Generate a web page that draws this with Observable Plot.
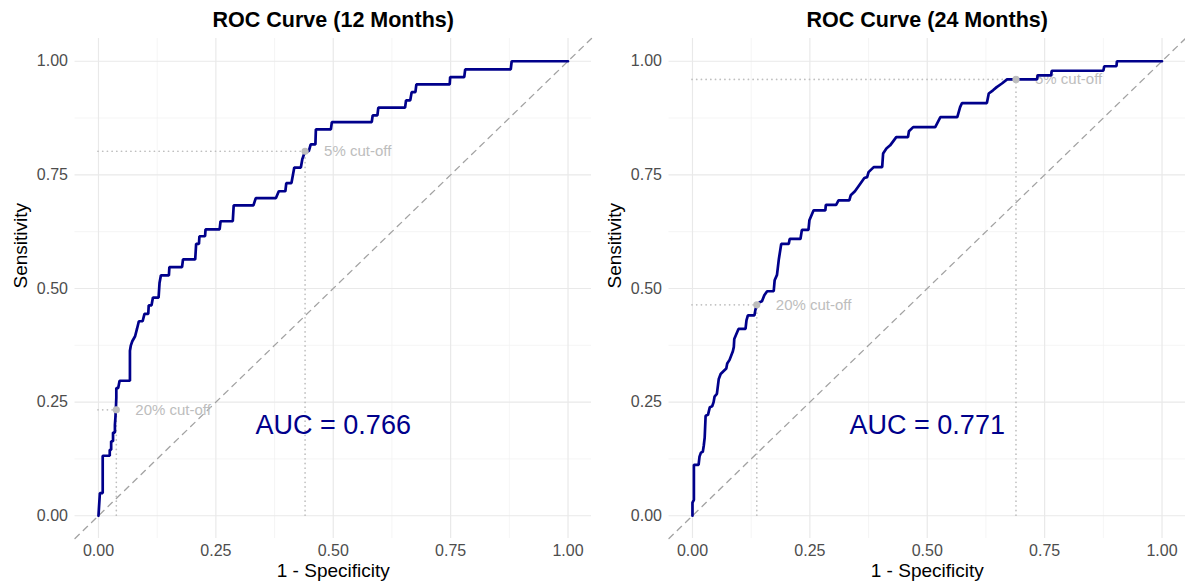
<!DOCTYPE html>
<html>
<head>
<meta charset="utf-8">
<script src="https://cdn.jsdelivr.net/npm/d3@7"></script>
<script src="https://cdn.jsdelivr.net/npm/@observablehq/plot@0.6"></script>
<style>
  html, body { margin: 0; padding: 0; background: #fff; }
  #wrap { position: relative; width: 1185px; height: 588px; overflow: hidden; }
  .panel { position: absolute; top: 0; }
</style>
</head>
<body>
<div id="wrap"></div>
<script>
// Shared axis setup
const axisTicks = [0, 0.25, 0.5, 0.75, 1];
const minorTicks = [0.125, 0.375, 0.625, 0.875];
const panelDomain = [-0.05, 1.05];

// ROC curve at 12 months: vertices of the step curve (1 - specificity, sensitivity)
const fpr12 = [0, 0.003, 0.009, 0.009, 0.024, 0.024, 0.027, 0.027, 0.031, 0.031, 0.035, 0.035, 0.036, 0.037, 0.038, 0.038,
  0.042, 0.045, 0.067, 0.067, 0.069, 0.072, 0.078, 0.082, 0.086, 0.094, 0.098, 0.106, 0.107, 0.113, 0.116, 0.128, 0.130, 0.133,
  0.150, 0.151, 0.178, 0.180, 0.206, 0.208, 0.214, 0.215, 0.227, 0.228, 0.258, 0.260, 0.286, 0.288, 0.330, 0.335, 0.378, 0.384,
  0.398, 0.400, 0.411, 0.417, 0.431, 0.434, 0.440, 0.448, 0.452, 0.462, 0.463, 0.495, 0.497, 0.582, 0.584, 0.594, 0.596, 0.653,
  0.655, 0.664, 0.667, 0.675, 0.677, 0.748, 0.749, 0.779, 0.781, 0.878, 0.880, 1.0];
const tpr12 = [0, 0.050, 0.050, 0.132, 0.132, 0.145, 0.145, 0.164, 0.164, 0.183, 0.183, 0.200, 0.215, 0.233, 0.260, 0.281,
  0.281, 0.297, 0.297, 0.363, 0.375, 0.384, 0.395, 0.411, 0.428, 0.428, 0.444, 0.444, 0.463, 0.463, 0.480, 0.480, 0.512, 0.529,
  0.529, 0.547, 0.547, 0.564, 0.564, 0.598, 0.598, 0.615, 0.615, 0.630, 0.630, 0.648, 0.648, 0.683, 0.683, 0.699, 0.699, 0.714,
  0.714, 0.732, 0.732, 0.766, 0.766, 0.784, 0.802, 0.802, 0.817, 0.817, 0.850, 0.850, 0.866, 0.866, 0.881, 0.881, 0.898, 0.898,
  0.914, 0.914, 0.932, 0.932, 0.949, 0.949, 0.965, 0.965, 0.982, 0.982, 1.0, 1.0];

// ROC curve at 24 months
const fpr24 = [0, 0, 0.003, 0.003, 0.013, 0.015, 0.018, 0.022, 0.024, 0.026, 0.028, 0.033, 0.037, 0.042, 0.045, 0.047,
  0.052, 0.056, 0.060, 0.067, 0.072, 0.074, 0.079, 0.086, 0.088, 0.089, 0.098, 0.113, 0.115, 0.118, 0.132, 0.134, 0.137, 0.143,
  0.148, 0.153, 0.159, 0.173, 0.175, 0.180, 0.184, 0.189, 0.205, 0.207, 0.230, 0.233, 0.247, 0.249, 0.258, 0.283, 0.284, 0.306,
  0.311, 0.334, 0.337, 0.346, 0.357, 0.366, 0.372, 0.375, 0.386, 0.404, 0.406, 0.413, 0.421, 0.434, 0.459, 0.461, 0.470, 0.517,
  0.528, 0.564, 0.570, 0.574, 0.627, 0.631, 0.640, 0.648, 0.659, 0.670, 0.734, 0.735, 0.764, 0.765, 0.875, 0.877, 0.903, 0.904, 1.0];
const tpr24 = [0, 0.029, 0.035, 0.112, 0.112, 0.130, 0.139, 0.141, 0.154, 0.172, 0.220, 0.222, 0.239, 0.241, 0.250, 0.262,
  0.268, 0.301, 0.312, 0.319, 0.324, 0.335, 0.343, 0.362, 0.371, 0.389, 0.411, 0.411, 0.430, 0.441, 0.441, 0.453, 0.464, 0.470,
  0.472, 0.485, 0.494, 0.494, 0.518, 0.530, 0.565, 0.598, 0.598, 0.609, 0.609, 0.629, 0.629, 0.650, 0.672, 0.672, 0.684, 0.684,
  0.694, 0.694, 0.705, 0.714, 0.730, 0.743, 0.745, 0.756, 0.767, 0.767, 0.797, 0.808, 0.815, 0.833, 0.833, 0.846, 0.855, 0.855,
  0.877, 0.877, 0.899, 0.908, 0.908, 0.929, 0.936, 0.943, 0.951, 0.960, 0.960, 0.969, 0.969, 0.979, 0.979, 0.989, 0.989, 1.0, 1.0];

// Cut-off points (label, 1 - specificity, sensitivity)
const cutLabels = ["5% cut-off", "20% cut-off"];
const cutFpr12 = [0.440, 0.038];
const cutTpr12 = [0.802, 0.233];
const cutFpr24 = [0.689, 0.137];
const cutTpr24 = [0.960, 0.464];

// AUC annotation
const aucText = ["AUC = 0.766", "AUC = 0.771"];
const aucPos = {fpr: 0.5, tpr: 0.2};

const titles = ["ROC Curve (12 Months)", "ROC Curve (24 Months)"];

const navy = "#00008B";
const faint = "#bdbdbd";
const fontFamily = "'Liberation Sans', Arial, Helvetica, sans-serif";

function rocPanel({title, fpr, tpr, cutFpr, cutTpr, auc, width, marginLeft, marginRight}) {
  const curve = fpr.map((x, i) => ({fpr: x, tpr: tpr[i]}));
  const cuts = cutLabels.map((label, i) => ({label, fpr: cutFpr[i], tpr: cutTpr[i]}));
  const fmt = d3.format(".2f");
  const guide = {stroke: "#bfbfbf", strokeWidth: 1.7, strokeDasharray: "0.1,4.6", strokeLinecap: "round"};
  return Plot.plot({
    width,
    height: 588,
    marginTop: 38,
    marginBottom: 50,
    marginLeft,
    marginRight,
    x: {domain: panelDomain},
    y: {domain: panelDomain},
    style: {fontFamily, fontSize: "16px", color: "#4d4d4d", background: "transparent", overflow: "visible"},
    marks: [
      // grid
      Plot.ruleX(minorTicks, {stroke: "#f2f2f2", strokeWidth: 0.8}),
      Plot.ruleY(minorTicks, {stroke: "#f2f2f2", strokeWidth: 0.8}),
      Plot.ruleX(axisTicks, {stroke: "#e9e9e9", strokeWidth: 1.2}),
      Plot.ruleY(axisTicks, {stroke: "#e9e9e9", strokeWidth: 1.2}),
      // axes
      Plot.axisX({ticks: axisTicks, tickFormat: fmt, tickSize: 0, tickPadding: 6, label: null, fill: "#4d4d4d"}),
      Plot.axisY({ticks: axisTicks, tickFormat: fmt, tickSize: 0, tickPadding: 7, label: null, fill: "#4d4d4d"}),
      // chance diagonal across the panel
      Plot.line(panelDomain.map((v) => [v, v]), {stroke: "#a3a3a3", strokeWidth: 1.3, strokeDasharray: "6,5.5"}),
      // cut-off guide lines
      Plot.ruleY(cuts, {y: "tpr", x1: () => 0, x2: "fpr", ...guide}),
      Plot.ruleX(cuts, {x: "fpr", y1: () => 0, y2: "tpr", ...guide}),
      Plot.text(cuts, {x: "fpr", y: "tpr", text: "label", dx: 19, textAnchor: "start", fill: faint, fontSize: 15}),
      // ROC curve
      Plot.line(curve, {x: "fpr", y: "tpr", stroke: navy, strokeWidth: 2.7, strokeLinejoin: "miter"}),
      Plot.dot(cuts, {x: "fpr", y: "tpr", r: 3.6, fill: faint, stroke: null}),
      // AUC
      Plot.text([aucPos], {x: "fpr", y: "tpr", text: () => auc, fill: navy, fontSize: 27}),
      // titles
      Plot.text([title], {frameAnchor: "top", dy: -18, lineAnchor: "middle", fontWeight: "bold", fontSize: 21.5, fill: "#000"}),
      Plot.text(["1 - Specificity"], {frameAnchor: "bottom", dy: 32, lineAnchor: "middle", fontSize: 19, fill: "#000"}),
      Plot.text(["Sensitivity"], {frameAnchor: "left", dx: -54.5, rotate: -90, lineAnchor: "middle", fontSize: 19, fill: "#000"})
    ]
  });
}

const wrap = document.getElementById("wrap");

const left = rocPanel({title: titles[0], fpr: fpr12, tpr: tpr12, cutFpr: cutFpr12, cutTpr: cutTpr12, auc: aucText[0],
  width: 592, marginLeft: 74.5, marginRight: 1});
const right = rocPanel({title: titles[1], fpr: fpr24, tpr: tpr24, cutFpr: cutFpr24, cutTpr: cutTpr24, auc: aucText[1],
  width: 593, marginLeft: 76.5, marginRight: 0});

const d1 = document.createElement("div");
d1.className = "panel"; d1.style.left = "0px"; d1.appendChild(left);
const d2 = document.createElement("div");
d2.className = "panel"; d2.style.left = "592px"; d2.appendChild(right);
wrap.appendChild(d1);
wrap.appendChild(d2);
</script>
</body>
</html>
